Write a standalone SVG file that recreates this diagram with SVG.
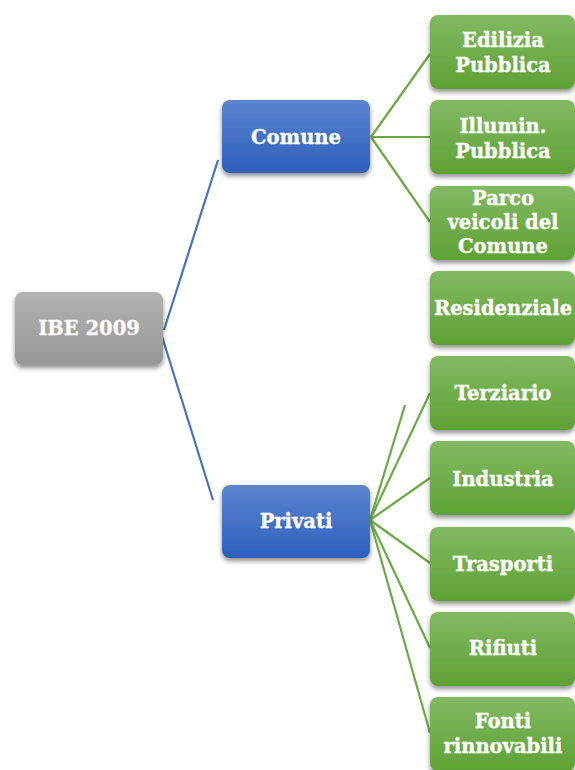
<svg xmlns="http://www.w3.org/2000/svg" width="575" height="770" viewBox="0 0 575 770">
<defs>
<linearGradient id="gGray" x1="0" y1="0" x2="0" y2="1"><stop offset="0" stop-color="#b2b2b2"/><stop offset="1" stop-color="#979797"/></linearGradient>
<linearGradient id="gBlue" x1="0" y1="0" x2="0" y2="1"><stop offset="0" stop-color="#5c84d0"/><stop offset="1" stop-color="#2e5fbd"/></linearGradient>
<linearGradient id="gGreen" x1="0" y1="0" x2="0" y2="1"><stop offset="0" stop-color="#82b962"/><stop offset="1" stop-color="#5ea234"/></linearGradient>
<filter id="sh" x="-20%" y="-20%" width="140%" height="150%">
<feGaussianBlur in="SourceAlpha" stdDeviation="2.5"/>
<feOffset dx="0" dy="3" result="b"/>
<feComponentTransfer><feFuncA type="linear" slope="0.45"/></feComponentTransfer>
<feMerge><feMergeNode/><feMergeNode in="SourceGraphic"/></feMerge>
</filter>
</defs>
<style>
.t{font-family:"DejaVu Serif","Liberation Serif",serif;font-weight:bold;font-size:19.5px;fill:#ffffff;stroke:#ffffff;stroke-width:0.35;text-anchor:middle}
.blue{stroke:#4472c4;stroke-width:2.2;fill:none}
.green{stroke:#6aaa42;stroke-width:2.2;fill:none}
.gr rect{fill:url(#gGreen);filter:url(#sh)}
</style>
<g id="connectors">
<line class="blue" x1="164" y1="330" x2="218" y2="160"/>
<line class="blue" x1="160" y1="330" x2="213" y2="500"/>
<line class="green" x1="371" y1="137" x2="430" y2="54"/>
<line class="green" x1="371" y1="137" x2="430" y2="137"/>
<line class="green" x1="371" y1="137" x2="430" y2="222"/>
<line class="green" x1="370" y1="520" x2="405" y2="405"/>
<line class="green" x1="370" y1="520" x2="430" y2="393"/>
<line class="green" x1="370" y1="520" x2="430" y2="478"/>
<line class="green" x1="370" y1="520" x2="430" y2="563"/>
<line class="green" x1="370" y1="520" x2="430" y2="648"/>
<line class="green" x1="370" y1="520" x2="430" y2="733"/>
</g>
<g id="ibe"><rect x="15" y="292" width="148" height="73" rx="8" fill="url(#gGray)" filter="url(#sh)"/><text class="t" x="89" y="335">IBE 2009</text></g>
<g id="comune"><rect x="222" y="100" width="148" height="73" rx="8" fill="url(#gBlue)" filter="url(#sh)"/><text class="t" x="296" y="144">Comune</text></g>
<g id="privati"><rect x="222" y="485" width="148" height="73" rx="8" fill="url(#gBlue)" filter="url(#sh)"/><text class="t" x="296" y="528">Privati</text></g>
<g id="edilizia" class="gr"><rect x="430" y="15" width="145" height="74" rx="8"/><text class="t" x="503" y="47">Edilizia</text><text class="t" x="503" y="72">Pubblica</text></g>
<g id="illumin" class="gr"><rect x="430" y="100" width="145" height="74" rx="8"/><text class="t" x="503" y="133">Illumin.</text><text class="t" x="503" y="158">Pubblica</text></g>
<g id="parco" class="gr"><rect x="430" y="186" width="145" height="74" rx="8"/><text class="t" x="503" y="205">Parco</text><text class="t" x="503" y="229">veicoli del</text><text class="t" x="503" y="253">Comune</text></g>
<g id="residenziale" class="gr"><rect x="430" y="271" width="145" height="74" rx="8"/><text class="t" x="503" y="315">Residenziale</text></g>
<g id="terziario" class="gr"><rect x="430" y="356" width="145" height="74" rx="8"/><text class="t" x="503" y="400">Terziario</text></g>
<g id="industria" class="gr"><rect x="430" y="441" width="145" height="74" rx="8"/><text class="t" x="503" y="486">Industria</text></g>
<g id="trasporti" class="gr"><rect x="430" y="527" width="145" height="74" rx="8"/><text class="t" x="503" y="571">Trasporti</text></g>
<g id="rifiuti" class="gr"><rect x="430" y="612" width="145" height="74" rx="8"/><text class="t" x="503" y="655">Rifiuti</text></g>
<g id="fonti" class="gr"><rect x="430" y="697" width="145" height="74" rx="8"/><text class="t" x="503" y="728">Fonti</text><text class="t" x="503" y="753">rinnovabili</text></g>
</svg>
